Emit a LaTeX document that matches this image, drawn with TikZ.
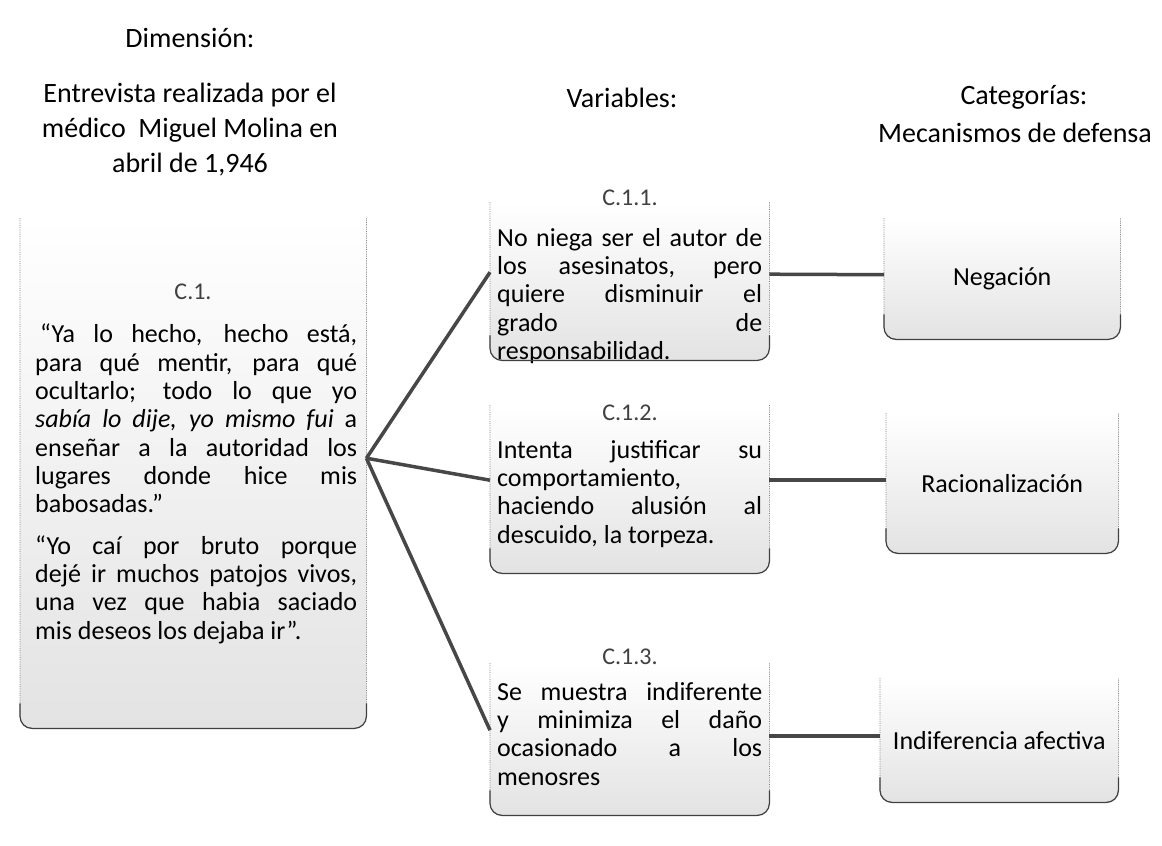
\documentclass[tikz,border=0pt]{standalone}
\usepackage{fontspec}
\setmainfont{Carlito}
\begin{document}
\begin{tikzpicture}[x=1pt,y=-1pt]
\begin{scope}

\tikzstyle{headnode} = [font=\fontsize{28}{35}\selectfont,align=center,inner sep=0pt];
\tikzstyle{boxnode} = [anchor=north west,rounded corners=12pt,top color=white,middle color=white,bottom color=black!11,inner sep=0pt,font=\fontsize{26}{28}\selectfont];
\tikzstyle{textnode} = [anchor=north west,inner sep=0pt,align=justify,font=\fontsize{26}{28.3}\selectfont];
\tikzstyle{titlenode} = [inner sep=0pt,font=\fontsize{24}{26}\selectfont,text=black!75];
\tikzstyle{sideline} = [densely dotted,draw=black!50,line width=0.8pt,rounded corners=12pt];
\tikzstyle{bottomline} = [draw=black!75,line width=1.2pt,rounded corners=12pt];
\tikzstyle{linkline} = [draw=black!72,line width=3.5pt];

\fill [white] (0,0) rectangle (1162,846);
\useasboundingbox (0,0) rectangle (1162,846);

\node [headnode] (dim) at (190,38) {Dimensión:};
\node [headnode] (ent) at (190,130) {Entrevista realizada por el\\médico~~Miguel Molina en\\abril de 1,946};
\node [headnode] (var) at (622,98) {Variables:};
\node [headnode] (cat) at (1024,97) {Categorías:};
\node [headnode] (mec) at (1015,133) {Mecanismos de defensa};

\node [boxnode,minimum width=346pt,minimum height=510pt] (l1) at (20,218) {};
\node [boxnode,minimum width=279pt,minimum height=158pt] (m1) at (490,202) {};
\node [boxnode,minimum width=279pt,minimum height=168pt] (m2) at (490,405) {};
\node [boxnode,minimum width=279pt,minimum height=152pt] (m3) at (490,663) {};
\node [boxnode,minimum width=236pt,minimum height=121pt] (r1) at (884,218) {Negación};
\node [boxnode,minimum width=232pt,minimum height=140pt] (r2) at (886,413) {Racionalización};
\node [boxnode,minimum width=238pt,minimum height=124pt] (r3) at (880,678) {Indiferencia afectiva};

\node [titlenode] (t1) at (193,292) {C.1.};
\node [textnode,text width=322pt] (lq1) at (35,324) {\hspace*{5pt}“Ya lo hecho, hecho está,\linebreak para qué mentir, para qué\linebreak ocultarlo; todo lo que yo\linebreak \textit{sabía lo dije, yo mismo fui} a\linebreak enseñar a la autoridad los\linebreak lugares donde hice mis\linebreak babosadas.”};
\node [textnode,text width=322pt] (lq2) at ([yshift=-22pt]lq1.south west) {“Yo caí por bruto porque\linebreak dejé ir muchos patojos vivos,\linebreak una vez que habia saciado\linebreak mis deseos los dejaba ir”.};

\node [titlenode] (t11) at (630,198) {C.1.1.};
\node [textnode,text width=265pt] (v1) at (497,228) {No niega ser el autor de\linebreak los asesinatos, pero\linebreak quiere disminuir el\linebreak grado de\linebreak responsabilidad.};
\node [titlenode] (t12) at (630,413) {C.1.2.};
\node [textnode,text width=265pt] (v2) at (497,440) {Intenta justificar su\linebreak comportamiento,\newline haciendo alusión al\linebreak descuido, la torpeza.};
\node [titlenode] (t13) at (630,657) {C.1.3.};
\node [textnode,text width=265pt] (v3) at (497,682) {Se muestra indiferente\linebreak y minimiza el daño\linebreak ocasionado a los\linebreak menosres};

\draw [sideline] (l1.north west) -- (l1.south west) -- (l1.south east) -- (l1.north east);
\draw [sideline] (m1.north west) -- (m1.south west) -- (m1.south east) -- (m1.north east);
\draw [sideline] (m2.north west) -- (m2.south west) -- (m2.south east) -- (m2.north east);
\draw [sideline] (m3.north west) -- (m3.south west) -- (m3.south east) -- (m3.north east);
\draw [sideline] (r1.north west) -- (r1.south west) -- (r1.south east) -- (r1.north east);
\draw [sideline] (r2.north west) -- (r2.south west) -- (r2.south east) -- (r2.north east);
\draw [sideline] (r3.north west) -- (r3.south west) -- (r3.south east) -- (r3.north east);

\draw [bottomline] ([yshift=25pt]l1.south west) -- (l1.south west) -- (l1.south east) -- ([yshift=25pt]l1.south east);
\draw [bottomline] ([yshift=25pt]m1.south west) -- (m1.south west) -- (m1.south east) -- ([yshift=25pt]m1.south east);
\draw [bottomline] ([yshift=25pt]m2.south west) -- (m2.south west) -- (m2.south east) -- ([yshift=25pt]m2.south east);
\draw [bottomline] ([yshift=25pt]m3.south west) -- (m3.south west) -- (m3.south east) -- ([yshift=25pt]m3.south east);
\draw [bottomline] ([yshift=25pt]r1.south west) -- (r1.south west) -- (r1.south east) -- ([yshift=25pt]r1.south east);
\draw [bottomline] ([yshift=25pt]r2.south west) -- (r2.south west) -- (r2.south east) -- ([yshift=25pt]r2.south east);
\draw [bottomline] ([yshift=25pt]r3.south west) -- (r3.south west) -- (r3.south east) -- ([yshift=25pt]r3.south east);

\draw [linkline] ([yshift=15pt]l1.east) -- ([yshift=9pt]m1.west);
\draw [linkline] ([yshift=15pt]l1.east) -- ([yshift=9pt]m2.west);
\draw [linkline] ([yshift=15pt]l1.east) -- ([yshift=9pt]m3.west);
\draw [linkline] ([yshift=7pt]m1.east) -- ([yshift=4pt]r1.west);
\draw [linkline] ([yshift=9pt]m2.east) -- ([yshift=3pt]r2.west);
\draw [linkline] ([yshift=3pt]m3.east) -- ([yshift=4pt]r3.west);

\end{scope}
\end{tikzpicture}
\end{document}
